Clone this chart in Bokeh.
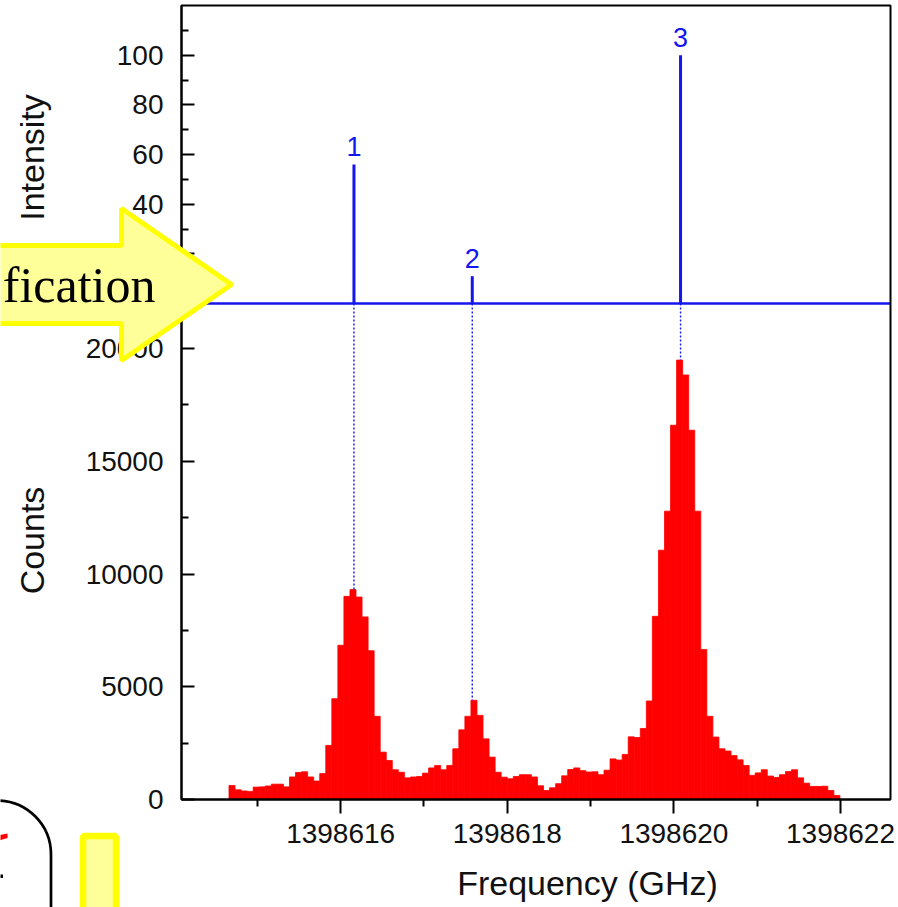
import math
import numpy as np
from bokeh.plotting import figure
from bokeh.models import (Range1d, LinearAxis, FixedTicker, PrintfTickFormatter,
                          Label, PolyAnnotation, BoxAnnotation, ColumnDataSource)
from bokeh.core.properties import value
from bokeh.embed import file_html
from bokeh.resources import INLINE

# ---- measured spectrum: histogram of counts --------------------------------
bin_start = 1398614.66      # GHz, left edge of first bin
bin_width = 0.0726          # GHz
counts = [
    620, 430, 380, 360, 550, 560, 600, 680, 680, 560,
    1000, 1200, 1230, 1000, 820, 1150, 2400, 4470, 6840, 9010,
    9310, 8980, 8100, 6600, 3690, 2100, 1730, 1320, 1210, 960,
    1000, 1020, 1170, 1400, 1510, 1320, 1510, 2250, 3090, 3690,
    4400, 3730, 2690, 1880, 1210, 990, 920, 1020, 1100, 1100,
    1000, 610, 400, 520, 700, 1050, 1330, 1400, 1280, 1220,
    1230, 1100, 1300, 1800, 1750, 2000, 2780, 2750, 3150, 4370,
    8125, 11060, 12790, 16600, 19490, 18830, 16380, 12790, 6650, 3690,
    2770, 2250, 2150, 1950, 1760, 1510, 1070, 1180, 1320, 1040,
    980, 1100, 1240, 1320, 960, 725, 580, 580, 590, 400,
    180,
]

# ---- calculated lines -----------------------------------------------------
line_freq = [1398616.16, 1398617.58, 1398620.08]
line_intensity = [56, 11, 100]
line_labels = ["1", "2", "3"]

# ---- ticks ----------------------------------------------------------------
freq_ticks = [1398616, 1398618, 1398620, 1398622]
freq_minor = [1398615, 1398617, 1398619, 1398621]
count_ticks = [0, 5000, 10000, 15000, 20000]
count_minor = [2500, 7500, 12500, 17500]
int_ticks = [0, 20, 40, 60, 80, 100]
int_minor = [10, 30, 50, 70, 90, 110]

# ---- page layout (pixels) -------------------------------------------------
PAGE_W, PAGE_H = 898, 907
BOX_L, BOX_R, BOX_T, BOX_B = 181, 890, 5, 799   # plot box
DIV = 303                                       # row of the panel divide
X0, X1 = 1398614.09, 1398622.6                  # frequency span of the box
COUNT_MAX = 22000                               # counts at the divide
INT_MAX = 120                                   # intensity at the box top

BLUE = "#1515ee"
RED = "#ff0000"
INK = "#111111"
SANS = "Liberation Sans"


def fx(px):
    """pixel column -> frequency"""
    return X0 + (px - BOX_L) * (X1 - X0) / (BOX_R - BOX_L)


def fy(py):
    """pixel row -> counts"""
    return (BOX_B - py) * COUNT_MAX / (BOX_B - DIV)


def fi(py):
    """pixel row -> intensity"""
    return (DIV - py) * INT_MAX / (DIV - BOX_T)


count_top = fy(BOX_T)

edges = bin_start + bin_width * np.arange(len(counts) + 1)
hist = ColumnDataSource(dict(left=edges[:-1], right=edges[1:], top=counts))

peak_idx = np.floor((np.array(line_freq) - bin_start) / bin_width).astype(int)
peak_counts = [counts[i] for i in peak_idx]
lines = ColumnDataSource(dict(x=line_freq, y=line_intensity, label=line_labels,
                              peak=peak_counts))

p = figure(frame_width=PAGE_W, frame_height=PAGE_H, min_border=0,
           x_range=Range1d(fx(0), fx(PAGE_W)), y_range=Range1d(fy(PAGE_H), fy(0)),
           x_axis_location=None, y_axis_location=None,
           output_backend="svg", toolbar_location=None, title=None,
           background_fill_color="white", border_fill_color="white")
p.extra_y_ranges = {"int": Range1d(fi(PAGE_H), fi(0))}
p.outline_line_color = None
p.grid.visible = False

# histogram
p.quad(left="left", right="right", bottom=0, top="top", source=hist,
       fill_color=RED, line_color=RED, line_width=0.8)

# dotted guides from each line down to its peak
p.segment(x0="x", y0=COUNT_MAX, x1="x", y1="peak", source=lines,
          line_color=BLUE, line_width=1.4, line_dash="2 2")

# stick spectrum
p.segment(x0=[X0], y0=[0], x1=[X1], y1=[0], y_range_name="int",
          line_color=BLUE, line_width=2.5)
p.segment(x0="x", y0=0, x1="x", y1="y", source=lines, y_range_name="int",
          line_color=BLUE, line_width=3)
p.text(x="x", y="y", text="label", source=lines, y_range_name="int",
       text_align="center", text_baseline="middle", y_offset=-18,
       text_font=value(SANS), text_font_size="27px", text_color=BLUE)

# plot box
p.add_layout(BoxAnnotation(left=X0, right=X1, bottom=0, top=count_top,
                           fill_alpha=0, line_color="black", line_alpha=1,
                           line_width=2))


def style_axis(ax, inward):
    ax.axis_line_width = 2
    ax.axis_line_color = "black"
    ax.major_tick_line_width = 2
    ax.minor_tick_line_width = 2
    ax.major_label_text_font = SANS
    ax.major_label_text_font_size = "28px"
    ax.major_label_text_color = INK
    ax.formatter = PrintfTickFormatter(format="%d")
    if inward:
        ax.major_tick_in, ax.major_tick_out = 13, 0
        ax.minor_tick_in, ax.minor_tick_out = 7, 0
        ax.major_label_standoff = 18
    else:
        ax.major_tick_in, ax.major_tick_out = 0, 14
        ax.minor_tick_in, ax.minor_tick_out = 0, 7
        ax.major_label_standoff = 10


# counts axis
yax = LinearAxis(fixed_location=X0, bounds=(0, count_top),
                 ticker=FixedTicker(ticks=count_ticks, minor_ticks=count_minor))
style_axis(yax, True)
p.add_layout(yax, "left")

# intensity axis on the same left edge
iax = LinearAxis(y_range_name="int", fixed_location=X0, bounds=(0, INT_MAX),
                 ticker=FixedTicker(ticks=int_ticks, minor_ticks=int_minor))
style_axis(iax, True)
iax.axis_line_color = None
p.add_layout(iax, "left")

# frequency axis
xax = LinearAxis(fixed_location=0, bounds=(X0, X1),
                 ticker=FixedTicker(ticks=freq_ticks, minor_ticks=freq_minor))
style_axis(xax, False)
p.add_layout(xax, "below")

# axis titles (anchored at the centre of each text)
for text, px, py, ang in [("Intensity", 31, 157, math.pi / 2),
                          ("Counts", 31, 540, math.pi / 2),
                          ("Frequency (GHz)", 587, 882, 0)]:
    p.add_layout(Label(x=fx(px), y=fy(py), text=text, angle=ang,
                       text_align="center", text_baseline="middle",
                       text_font=SANS, text_font_size="34px", text_color=INK))

# slide call-out arrow
arrow_x = [-20, 121, 121, 231, 121, 121, -20]
arrow_y = [245, 245, 208, 284, 360, 323, 323]
p.add_layout(PolyAnnotation(xs=[fx(v) for v in arrow_x], ys=[fy(v) for v in arrow_y],
                            fill_color="#ffff99", fill_alpha=1,
                            line_color="#ffff00", line_alpha=1, line_width=5))
p.add_layout(Label(x=fx(155), y=fy(284), text="fication", text_align="right",
                   text_baseline="middle", text_font="Liberation Serif",
                   text_font_size="50px", text_color="black"))

# rounded frame and yellow tab at lower left
p.add_layout(BoxAnnotation(left=fx(-60), right=fx(50.5), top=fy(800), bottom=fy(1000),
                           fill_alpha=0, line_color="black", line_alpha=1,
                           line_width=2.7, border_radius=54))
p.add_layout(PolyAnnotation(xs=[fx(v) for v in [-3, 7, 7, -3]],
                            ys=[fy(v) for v in [835, 833, 837.5, 840.5]],
                            fill_color=RED, fill_alpha=1, line_alpha=0))
p.add_layout(BoxAnnotation(left=fx(-3), right=fx(2.5), top=fy(874), bottom=fy(877.5),
                           fill_color="black", fill_alpha=1, line_alpha=0))
p.add_layout(BoxAnnotation(left=fx(82.5), right=fx(115.5), top=fy(835.5), bottom=fy(960),
                           fill_color="#ffff99", fill_alpha=1,
                           line_color="#ffff00", line_alpha=1, line_width=6.5))

open("out.html", "w").write(file_html(p, INLINE))
